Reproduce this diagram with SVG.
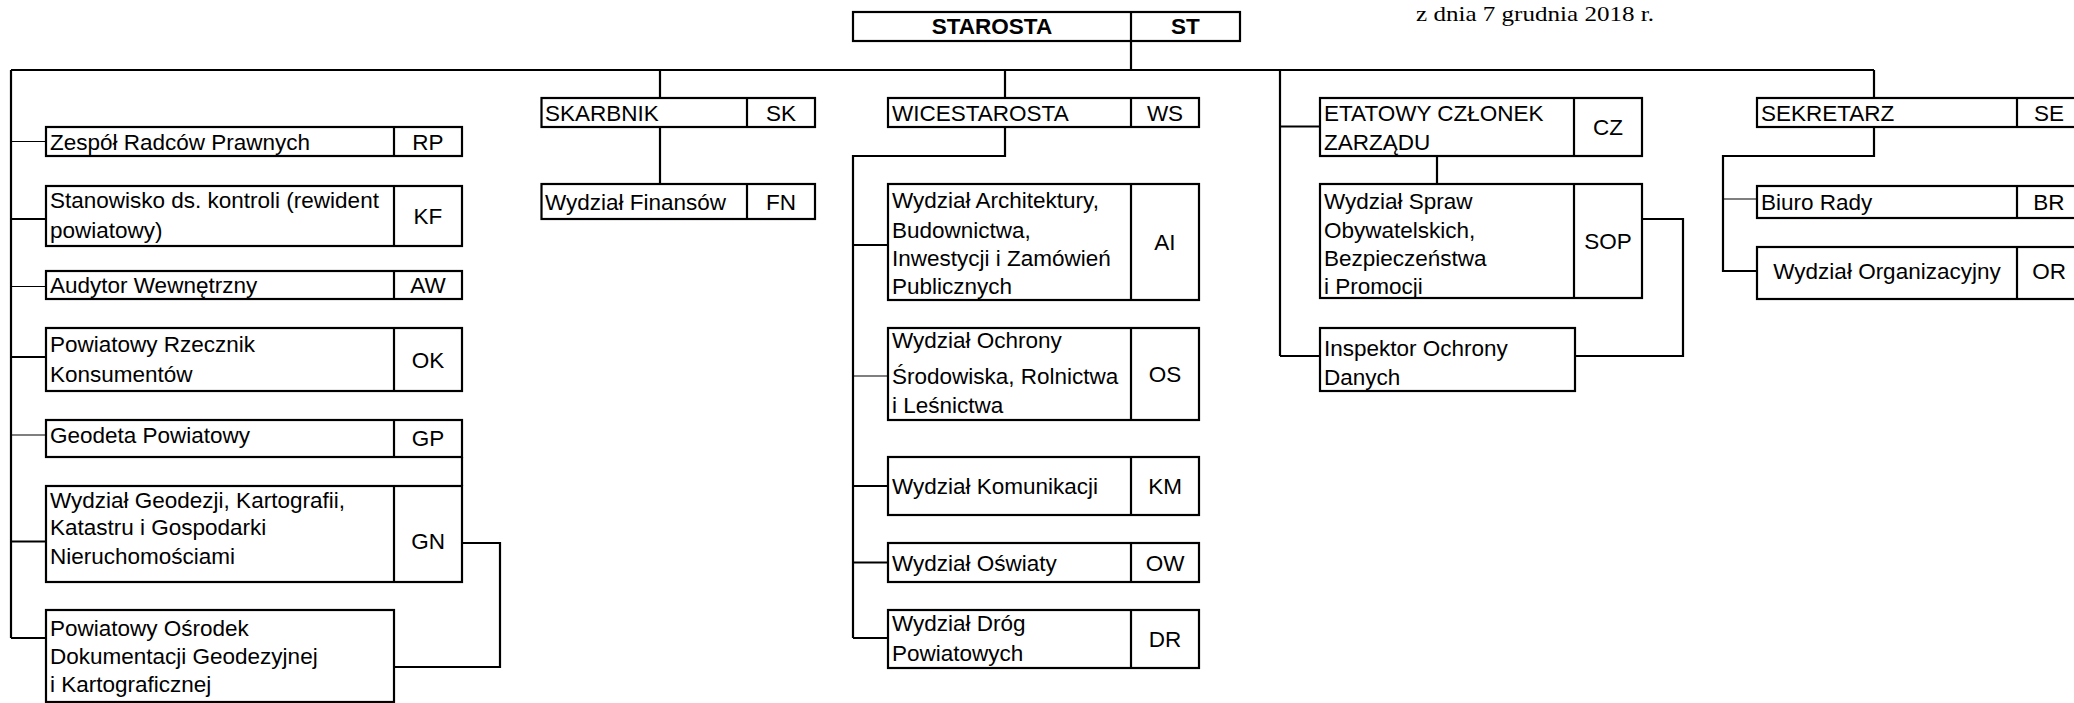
<svg xmlns="http://www.w3.org/2000/svg" width="2074" height="703" viewBox="0 0 2074 703">
<style>
rect{fill:#fff;stroke:#000;stroke-width:2.2}
.d{stroke:#000;stroke-width:2.2;fill:none}
.c{stroke:#000;stroke-width:2.2;fill:none}
.t{stroke:#000;stroke-width:1.2;fill:none}
text{font-family:"Liberation Sans",Arial,sans-serif;font-size:22.5px;fill:#000}
.m{text-anchor:middle}
.b{font-weight:bold}
.h{font-family:"Liberation Serif","Times New Roman",serif;font-size:21.5px}
</style>
<rect width="2074" height="703" style="fill:#fff;stroke:none"/>
<text class="h" x="1416" y="21" textLength="238" lengthAdjust="spacingAndGlyphs">z dnia 7 grudnia 2018 r.</text>

<g id="connectors">
<path class="c" d="M1131 41V70M11 70H1874M11 70V638M660 70V98M1005 70V98M1280 70V356M1874 70V98"/>
<path class="t" d="M11 141.5H46"/>
<path class="c" d="M11 219H46"/>
<path class="t" d="M11 286.5H46"/>
<path class="c" d="M11 357H46"/>
<path class="t" d="M11 435H46"/>
<path class="c" d="M11 541.5H46M11 638H46"/>
<path class="c" d="M462 457V486M462 543H500V667H394"/>
<path class="c" d="M660 127V184"/>
<path class="c" d="M1005 127V156H853V638"/>
<path class="c" d="M853 245H888"/>
<path class="t" d="M853 376H888"/>
<path class="c" d="M853 486H888M853 562.5H888M853 638H888"/>
<path class="c" d="M1280 126.5H1320M1437 156V184M1642 219H1683V356H1575M1280 356H1320"/>
<path class="c" d="M1874 127V156H1723V271H1757"/>
<path class="t" d="M1723 199H1757"/>
</g>

<g id="n-starosta">
<rect x="853" y="12" width="387" height="29"/>
<path class="d" d="M1131 12V41"/>
<text class="m b" x="992" y="34">STAROSTA</text>
<text class="m b" x="1185.5" y="34">ST</text>
</g>

<g id="n-rp">
<rect x="46" y="127" width="416" height="29"/>
<path class="d" d="M394 127V156"/>
<text x="50" y="149.5">Zespół Radców Prawnych</text>
<text class="m" x="428" y="149.5">RP</text>
</g>

<g id="n-kf">
<rect x="46" y="186" width="416" height="60"/>
<path class="d" d="M394 186V246"/>
<text x="50" y="207.5">Stanowisko ds. kontroli (rewident</text>
<text x="50" y="238">powiatowy)</text>
<text class="m" x="428" y="224">KF</text>
</g>

<g id="n-aw">
<rect x="46" y="271" width="416" height="28"/>
<path class="d" d="M394 271V299"/>
<text x="50" y="293">Audytor Wewnętrzny</text>
<text class="m" x="428" y="293">AW</text>
</g>

<g id="n-ok">
<rect x="46" y="328" width="416" height="63"/>
<path class="d" d="M394 328V391"/>
<text x="50" y="351.5">Powiatowy Rzecznik</text>
<text x="50" y="381.5">Konsumentów</text>
<text class="m" x="428" y="367.5">OK</text>
</g>

<g id="n-gp">
<rect x="46" y="420" width="416" height="37"/>
<path class="d" d="M394 420V457"/>
<text x="50" y="443">Geodeta Powiatowy</text>
<text class="m" x="428" y="446">GP</text>
</g>

<g id="n-gn">
<rect x="46" y="486" width="416" height="96"/>
<path class="d" d="M394 486V582"/>
<text x="50" y="508">Wydział Geodezji, Kartografii,</text>
<text x="50" y="535">Katastru i Gospodarki</text>
<text x="50" y="564">Nieruchomościami</text>
<text class="m" x="428" y="549">GN</text>
</g>

<g id="n-po">
<rect x="46" y="610" width="348" height="92"/>
<text x="50" y="636">Powiatowy Ośrodek</text>
<text x="50" y="664">Dokumentacji Geodezyjnej</text>
<text x="50" y="691.5">i Kartograficznej</text>
</g>

<g id="n-sk">
<rect x="541.5" y="98" width="273.5" height="29"/>
<path class="d" d="M747 98V127"/>
<text x="545" y="121">SKARBNIK</text>
<text class="m" x="781" y="121">SK</text>
</g>

<g id="n-fn">
<rect x="541.5" y="184" width="273.5" height="35"/>
<path class="d" d="M747 184V219"/>
<text x="545" y="209.5">Wydział Finansów</text>
<text class="m" x="781" y="209.5">FN</text>
</g>

<g id="n-ws">
<rect x="888" y="98" width="311" height="29"/>
<path class="d" d="M1131 98V127"/>
<text x="892" y="121">WICESTAROSTA</text>
<text class="m" x="1165" y="121">WS</text>
</g>

<g id="n-ai">
<rect x="888" y="184" width="311" height="116"/>
<path class="d" d="M1131 184V300"/>
<text x="892" y="208">Wydział Architektury,</text>
<text x="892" y="237.5">Budownictwa,</text>
<text x="892" y="266">Inwestycji i Zamówień</text>
<text x="892" y="294">Publicznych</text>
<text class="m" x="1165" y="250">AI</text>
</g>

<g id="n-os">
<rect x="888" y="328" width="311" height="92"/>
<path class="d" d="M1131 328V420"/>
<text x="892" y="348">Wydział Ochrony</text>
<text x="892" y="384">Środowiska, Rolnictwa</text>
<text x="892" y="413">i Leśnictwa</text>
<text class="m" x="1165" y="382">OS</text>
</g>

<g id="n-km">
<rect x="888" y="457" width="311" height="58"/>
<path class="d" d="M1131 457V515"/>
<text x="892" y="494">Wydział Komunikacji</text>
<text class="m" x="1165" y="494">KM</text>
</g>

<g id="n-ow">
<rect x="888" y="543" width="311" height="39"/>
<path class="d" d="M1131 543V582"/>
<text x="892" y="570.5">Wydział Oświaty</text>
<text class="m" x="1165" y="570.5">OW</text>
</g>

<g id="n-dr">
<rect x="888" y="610" width="311" height="58"/>
<path class="d" d="M1131 610V668"/>
<text x="892" y="631">Wydział Dróg</text>
<text x="892" y="661">Powiatowych</text>
<text class="m" x="1165" y="647">DR</text>
</g>

<g id="n-cz">
<rect x="1320" y="98" width="322" height="58"/>
<path class="d" d="M1574 98V156"/>
<text x="1324" y="121">ETATOWY CZŁONEK</text>
<text x="1324" y="149.5">ZARZĄDU</text>
<text class="m" x="1608" y="135">CZ</text>
</g>

<g id="n-sop">
<rect x="1320" y="184" width="322" height="114"/>
<path class="d" d="M1574 184V298"/>
<text x="1324" y="208.5">Wydział Spraw</text>
<text x="1324" y="238">Obywatelskich,</text>
<text x="1324" y="266">Bezpieczeństwa</text>
<text x="1324" y="294">i Promocji</text>
<text class="m" x="1608" y="249">SOP</text>
</g>

<g id="n-iod">
<rect x="1320" y="328" width="255" height="63"/>
<text x="1324" y="356">Inspektor Ochrony</text>
<text x="1324" y="384.5">Danych</text>
</g>

<g id="n-se">
<rect x="1757" y="98" width="330" height="29"/>
<path class="d" d="M2017 98V127"/>
<text x="1761" y="121">SEKRETARZ</text>
<text class="m" x="2049" y="121">SE</text>
</g>

<g id="n-br">
<rect x="1757" y="186" width="330" height="32"/>
<path class="d" d="M2017 186V218"/>
<text x="1761" y="210">Biuro Rady</text>
<text class="m" x="2049" y="210">BR</text>
</g>

<g id="n-or">
<rect x="1757" y="247" width="330" height="52"/>
<path class="d" d="M2017 247V299"/>
<text class="m" x="1887" y="279">Wydział Organizacyjny</text>
<text class="m" x="2049" y="279">OR</text>
</g>
</svg>
